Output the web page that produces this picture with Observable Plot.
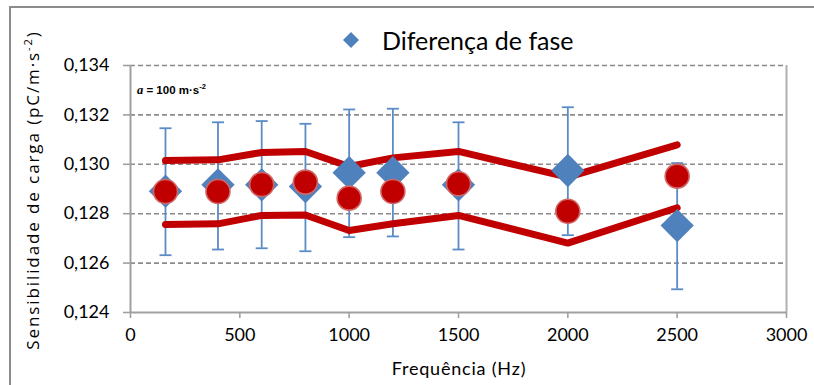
<!DOCTYPE html>
<html>
<head>
<meta charset="utf-8">
<script src="https://cdn.jsdelivr.net/npm/d3@7"></script>
<script src="https://cdn.jsdelivr.net/npm/@observablehq/plot@0.6"></script>
<style>
  body { margin: 0; background: #fff; }
  #wrap { position: relative; width: 814px; height: 385px; font-family: Lato, "Open Sans", sans-serif; overflow: hidden; }
  #frame { position: absolute; left: 9px; top: 6px; width: 820px; height: 400px; border-left: 2px solid #8c8c8c; border-top: 2px solid #8c8c8c; }
  #chart { position: absolute; left: 0; top: 0; }
  #legend { position: absolute; left: 342px; top: 25px; font-size: 25px; color: #000; display: flex; align-items: center; white-space: nowrap; }
  #legend svg { margin-right: 22px; }
  #ylabel { position: absolute; left: 32px; top: 190px; transform: translate(-50%, -50%) rotate(-90deg); font-family: "Open Sans", sans-serif; font-size: 17px; white-space: nowrap; color: #000; letter-spacing: 1.9px; }
  #xlabel { position: absolute; left: 459px; top: 368px; transform: translate(-50%, -50%); font-size: 18px; white-space: nowrap; color: #000; letter-spacing: 0.8px; }
  #annot { position: absolute; left: 137px; top: 82px; font-size: 11.5px; font-weight: bold; white-space: nowrap; color: #000; font-family: "Liberation Sans", sans-serif; }
  #annot i { font-family: "Liberation Serif", serif; font-size: 12.5px; }
  sup { font-size: 0.65em; }
</style>
</head>
<body>
<div id="wrap">
  <div id="frame"></div>
  <div id="chart"></div>
  <div id="legend"><svg width="18" height="18" viewBox="-9 -9 18 18"><path d="M0,-8L8,0L0,8L-8,0Z" fill="#4F81BD"/></svg><span>Diferença de fase</span></div>
  <div id="ylabel">Sensibilidade de carga (pC/m·s<sup>-2</sup>)</div>
  <div id="xlabel">Frequência (Hz)</div>
  <div id="annot"><i>a</i> = 100 m·s<sup>-2</sup></div>
</div>
<script>
// Frequencies (Hz)
const freq   = [160, 400, 600, 800, 1000, 1200, 1500, 2000, 2500];
// Series "Diferença de fase" (diamonds) and its error bar limits
const fase   = [0.12891, 0.12917, 0.12917, 0.12910, 0.12966, 0.12966, 0.12917, 0.12975, 0.12752];
const errHi  = [0.13146, 0.13170, 0.13175, 0.13164, 0.13222, 0.13225, 0.13170, 0.13231, 0.13005];
const errLo  = [0.12632, 0.12655, 0.12660, 0.12648, 0.12705, 0.12708, 0.12655, 0.12713, 0.12494];
// Reference series (red circles)
const circ   = [0.12890, 0.12890, 0.12918, 0.12928, 0.12863, 0.12890, 0.12921, 0.12810, 0.12952];
// Upper / lower limit lines (red)
const upper  = [0.13015, 0.13018, 0.13048, 0.13052, 0.12991, 0.13026, 0.13052, 0.12948, 0.13079];
const lower  = [0.12756, 0.12759, 0.12793, 0.12795, 0.12732, 0.12759, 0.12793, 0.12681, 0.12824];
// Axis ticks
const xTicks = [0, 500, 1000, 1500, 2000, 2500, 3000];
const yTicks = [0.124, 0.126, 0.128, 0.130, 0.132, 0.134];

const rows = freq.map((f, i) => ({f, fase: fase[i], hi: errHi[i], lo: errLo[i], circ: circ[i], upper: upper[i], lower: lower[i]}));

const capSymbol = { draw(ctx) { ctx.moveTo(-6, 0); ctx.lineTo(6, 0); } };
const fmt = v => v.toFixed(3).replace(".", ",");
const gray = "#8c8c8c";

const chart = Plot.plot({
  width: 814,
  height: 385,
  marginLeft: 130,
  marginRight: 28,
  marginTop: 65,
  marginBottom: 73,
  style: { fontFamily: "Lato, 'Open Sans', sans-serif", fontSize: "18px", color: "#000", background: "transparent", overflow: "visible" },
  x: { domain: [0, 3000] },
  y: { domain: [0.124, 0.134] },
  marks: [
    Plot.gridY(yTicks.slice(1), { stroke: gray, strokeOpacity: 1, strokeWidth: 1.6, strokeDasharray: "5,3" }),
    Plot.ruleX([0], { stroke: "#a0a0a0", strokeWidth: 2 }),
    Plot.ruleX([3000], { stroke: "#b0b0b0", strokeWidth: 2 }),
    Plot.ruleY([0.124], { stroke: "#a0a0a0", strokeWidth: 2 }),
    Plot.axisY({ ticks: yTicks, tickFormat: fmt, tickSize: 7, tickPadding: 14, label: null, stroke: "#a0a0a0", strokeWidth: 1.6 }),
    Plot.axisX({ ticks: xTicks, tickFormat: d => String(d), tickSize: 6, tickPadding: 10, label: null, stroke: "#a0a0a0", strokeWidth: 1.6 }),
    // error bars
    Plot.ruleX(rows, { x: "f", y1: "lo", y2: "hi", stroke: "#5B8CC6", strokeWidth: 1.8 }),
    Plot.dot(rows, { x: "f", y: "hi", symbol: capSymbol, fill: "none", stroke: "#5B8CC6", strokeWidth: 1.8 }),
    Plot.dot(rows, { x: "f", y: "lo", symbol: capSymbol, fill: "none", stroke: "#5B8CC6", strokeWidth: 1.8 }),
    // limit lines
    Plot.line(rows, { x: "f", y: "upper", stroke: "#C00000", strokeWidth: 7, strokeLinecap: "round", strokeLinejoin: "round" }),
    Plot.line(rows, { x: "f", y: "lower", stroke: "#C00000", strokeWidth: 7, strokeLinecap: "round", strokeLinejoin: "round" }),
    // diamonds
    Plot.dot(rows, { x: "f", y: "fase", symbol: "diamond2", r: 15, fill: "#4F81BD", stroke: "none" }),
    // circles
    Plot.dot(rows, { x: "f", y: "circ", r: 12, fill: "#C00000", stroke: "#D06868", strokeWidth: 1.6 })
  ]
});
document.getElementById("chart").appendChild(chart);
</script>
</body>
</html>
